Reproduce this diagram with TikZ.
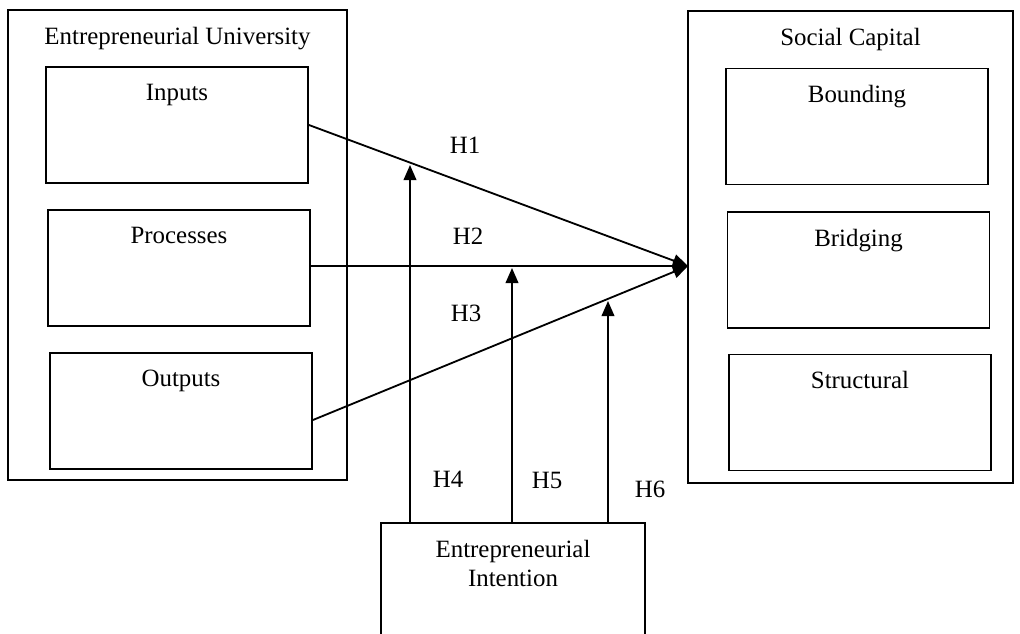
\documentclass[tikz,border=0pt]{standalone}
\usepackage{fontspec}
\setmainfont{Liberation Serif}
\usetikzlibrary{arrows.meta}

\begin{document}
\begin{tikzpicture}[x=0.025cm, y=0.025cm]
                \tikzstyle{every node}+=[font=\fontsize{17.7}{20.5}\selectfont]
                \tikzstyle{box}=[draw=black, line width=1.3pt, rectangle, inner sep=0pt]
                \tikzstyle{inner box}=[box, minimum width=6.55cm, minimum height=2.9cm]
                \tikzstyle{title}=[anchor=north, yshift=-0.32cm, align=center]
                \tikzstyle{hyp}=[black, line width=1.3pt, -{Triangle[length=3.8mm,width=3.2mm]}]
                \useasboundingbox (0,0) rectangle (1020,-633);
                \draw (177.5,-245) node [box, minimum width=8.475cm, minimum height=11.75cm, label={[title]north:Entrepreneurial University}] (eu) {};
                \draw (177,-125) node [inner box, label={[title]north:Inputs}] (inputs) {};
                \draw (179,-268) node [inner box, label={[title]north:Processes}] (processes) {};
                \draw (181,-411) node [inner box, label={[title]north:Outputs}] (outputs) {};
                \draw (850.5,-247) node [box, minimum width=8.125cm, minimum height=11.8cm, label={[title]north:Social Capital}] (sc) {};
                \draw (857,-126.5) node [inner box, label={[title]north:Bounding}] (bounding) {};
                \draw (858.5,-270) node [inner box, label={[title]north:Bridging}] (bridging) {};
                \draw (860,-412.5) node [inner box, label={[title]north:Structural}] (structural) {};
                \draw (513,-588) node [box, minimum width=6.6cm, minimum height=3.25cm, label={[title, yshift=-0.02cm]north:Entrepreneurial\\Intention}] (ei) {};
                \coordinate (hub) at (688,-266);
                \coordinate (h4tip) at (410,-165);
                \coordinate (h5tip) at (512,-268);
                \coordinate (h6tip) at (608,-301);
                \draw [hyp] (inputs.east) -- (hub);
                \draw [hyp] ([yshift=0.05cm]processes.east) -- (hub);
                \draw [hyp] ([yshift=-0.225cm]outputs.east) -- (hub);
                \draw [hyp] (ei.north -| h4tip) -- (h4tip);
                \draw [hyp] (ei.north -| h5tip) -- (h5tip);
                \draw [hyp] (ei.north -| h6tip) -- (h6tip);
                \draw (465,-145) node (h1) {H1};
                \draw (468,-236) node (h2) {H2};
                \draw (466,-313) node (h3) {H3};
                \draw (448,-479) node (h4) {H4};
                \draw (547,-480) node (h5) {H5};
                \draw (650,-489) node (h6) {H6};
            \end{tikzpicture}
\end{document}
